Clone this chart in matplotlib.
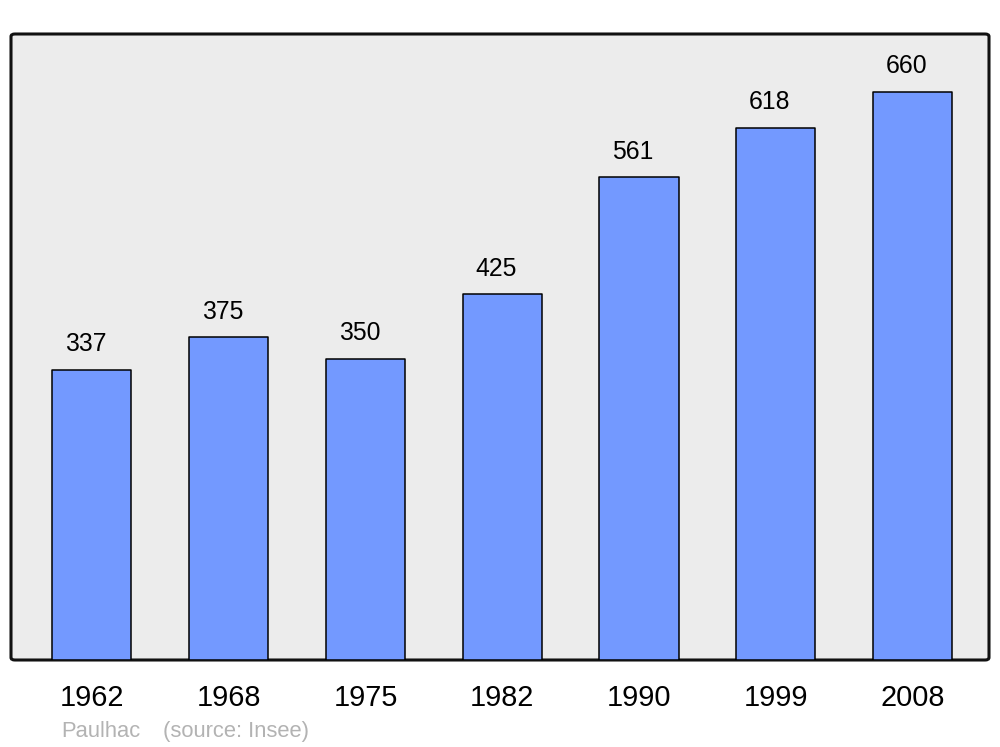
import matplotlib.pyplot as plt
from matplotlib.patches import FancyBboxPatch

plt.rcParams['font.family'] = ['Liberation Sans', 'DejaVu Sans']

years = ['1962', '1968', '1975', '1982', '1990', '1999', '2008']
population = [337, 375, 350, 425, 561, 618, 660]

fig = plt.figure(figsize=(10, 7.47), dpi=100)
ax = fig.add_axes([11/1000, 87/747, 978/1000, 626/747])
ax.set_facecolor('none')

# rounded frame with grey background
frame = FancyBboxPatch((0, 0), 1, 1, boxstyle='round,pad=0,rounding_size=0.004',
                       transform=ax.transAxes, facecolor='#ececec',
                       edgecolor='#111111', linewidth=2.2, zorder=0, clip_on=False)
ax.add_patch(frame)

x = list(range(len(years)))
bars = ax.bar(x, population, width=0.578, color='#7399ff', edgecolor='black',
              linewidth=1.1, zorder=2)
for b in bars:
    b.set_joinstyle('round')

for xi, v in zip(x, population):
    ax.annotate(str(v), (xi, v), xytext=(-4.3, 18.5), textcoords='offset points',
                ha='center', va='center', fontsize=17.8)

ax.set_xlim(-0.592, 6.559)
ax.set_ylim(0, 727.4)
ax.set_xticks(x)
ax.set_xticklabels(years, fontsize=20.8)
ax.tick_params(axis='x', length=0, pad=17.5)
ax.set_yticks([])
for s in ax.spines.values():
    s.set_visible(False)

fig.text(61/1000, 1 - 737/747, 'Paulhac', color='#b3b3b3', fontsize=15.8, va='baseline')
fig.text(163/1000, 1 - 737/747, '(source: Insee)', color='#b3b3b3', fontsize=15.8, va='baseline')

fig.savefig('out.png', dpi=100)
